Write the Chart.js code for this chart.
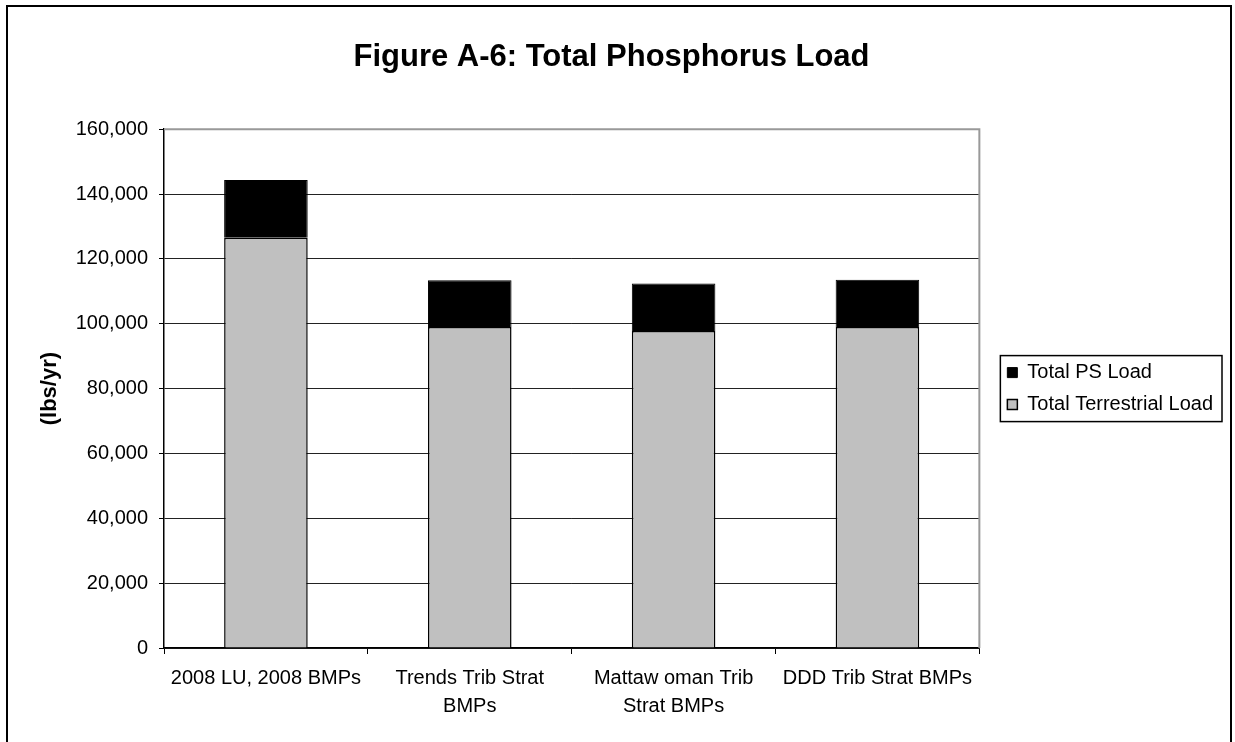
<!DOCTYPE html>
<html>
<head>
<meta charset="utf-8">
<script src="https://cdn.jsdelivr.net/npm/chart.js@4/dist/chart.umd.min.js"></script>
<style>
  html, body { margin: 0; padding: 0; background: #fff; }
  #wrap { width: 1235px; height: 742px; }
</style>
</head>
<body>
<div id="wrap"><canvas id="myChart" width="1235" height="742"></canvas></div>
<script>
// categories and values (lbs/yr)
let categories = ["2008 LU, 2008 BMPs", ["Trends Trib Strat", "BMPs"], ["Mattaw oman Trib", "Strat BMPs"], "DDD Trib Strat BMPs"];
let terrestrialLoad = [126500, 99000, 97800, 99000];
let psLoad = [17800, 14400, 14600, 14600];
let yTicks = [0, 20000, 40000, 60000, 80000, 100000, 120000, 140000, 160000];

Chart.defaults.font.family = "'Liberation Sans', Arial, sans-serif";
Chart.defaults.color = '#000';

// outer frame, plot frame (top/right) and legend box
const frames = {
  id: 'frames',
  beforeDraw(chart) {
    const c = chart.ctx;
    c.save();
    c.fillStyle = '#fff';
    c.fillRect(0, 0, chart.width, chart.height);
    c.restore();
  },
  afterDraw(chart) {
    const c = chart.ctx;
    const a = chart.chartArea;
    c.save();
    c.strokeStyle = '#000';
    c.lineWidth = 2;
    c.strokeRect(7, 6, 1224, 800);
    c.strokeStyle = '#999';
    c.lineWidth = 2;
    c.beginPath();
    c.moveTo(a.left, a.top);
    c.lineTo(a.right, a.top);
    c.lineTo(a.right, a.bottom);
    c.stroke();
    const boxes = chart.legend.legendHitBoxes;
    if (boxes && boxes.length) {
      let l = Math.min(...boxes.map(b => b.left));
      let t = Math.min(...boxes.map(b => b.top));
      let r = Math.max(...boxes.map(b => b.left + b.width));
      let btm = Math.max(...boxes.map(b => b.top + b.height));
      c.strokeStyle = '#000';
      c.lineWidth = 1.5;
      c.strokeRect(l - 7, t - 7, r - l + 16, btm - t + 14);
    }
    c.restore();
  }
};

const ctx = document.getElementById('myChart').getContext('2d');
const myChart = new Chart(ctx, {
  type: 'bar',
  data: {
    labels: categories,
    datasets: [{
      label: 'Total Terrestrial Load',
      data: terrestrialLoad,
      backgroundColor: '#c0c0c0',
      borderColor: '#000',
      borderWidth: 1.5
    }, {
      label: 'Total PS Load',
      data: psLoad,
      backgroundColor: '#000',
      borderColor: '#000',
      borderWidth: 1
    }]
  },
  options: {
    responsive: false,
    animation: false,
    events: [],
    layout: { padding: { left: 0, right: 12, top: 0, bottom: 12 } },
    datasets: { bar: { barPercentage: 0.41, categoryPercentage: 1 } },
    plugins: {
      title: {
        display: true,
        text: 'Figure A-6: Total Phosphorus Load',
        font: { size: 31, weight: 'bold' },
        color: '#000',
        padding: { top: 39, bottom: 53 }
      },
      legend: {
        position: 'right',
        fullSize: false,
        reverse: true,
        labels: {
          boxWidth: 10,
          boxHeight: 10,
          padding: 12,
          font: { size: 20 },
          color: '#000'
        }
      },
      tooltip: { enabled: false }
    },
    scales: {
      x: {
        stacked: true,
        grid: { display: true, drawOnChartArea: false, offset: true, tickLength: 6, tickColor: '#000', color: '#000' },
        border: { color: '#000', width: 1.5 },
        ticks: { font: { size: 20, lineHeight: 1.4 }, color: '#000', padding: 10, maxRotation: 0, autoSkip: false }
      },
      y: {
        stacked: true,
        min: 0,
        max: 160000,
        afterBuildTicks: (s) => { s.ticks = yTicks.map(v => ({ value: v })); },
        afterFit: (s) => { s.width = 164; },
        grid: {
          color: (c) => c.tick && c.tick.value === 160000 ? '#999' : '#222',
          tickColor: '#000',
          tickLength: 5,
          lineWidth: 1
        },
        border: { color: '#000', width: 1.5 },
        ticks: {
          font: { size: 20 },
          color: '#000',
          padding: 11,
          callback: (v) => Number(v).toLocaleString('en-US')
        },
        title: {
          display: true,
          text: '(lbs/yr)',
          font: { size: 22, weight: 'bold' },
          color: '#000',
          padding: { top: 37, bottom: 0 }
        }
      },
      gap: {
        type: 'linear',
        position: 'right',
        display: false,
        afterFit: (s) => { s.width = 16; }
      }
    }
  },
  plugins: [frames]
});
</script>
</body>
</html>
